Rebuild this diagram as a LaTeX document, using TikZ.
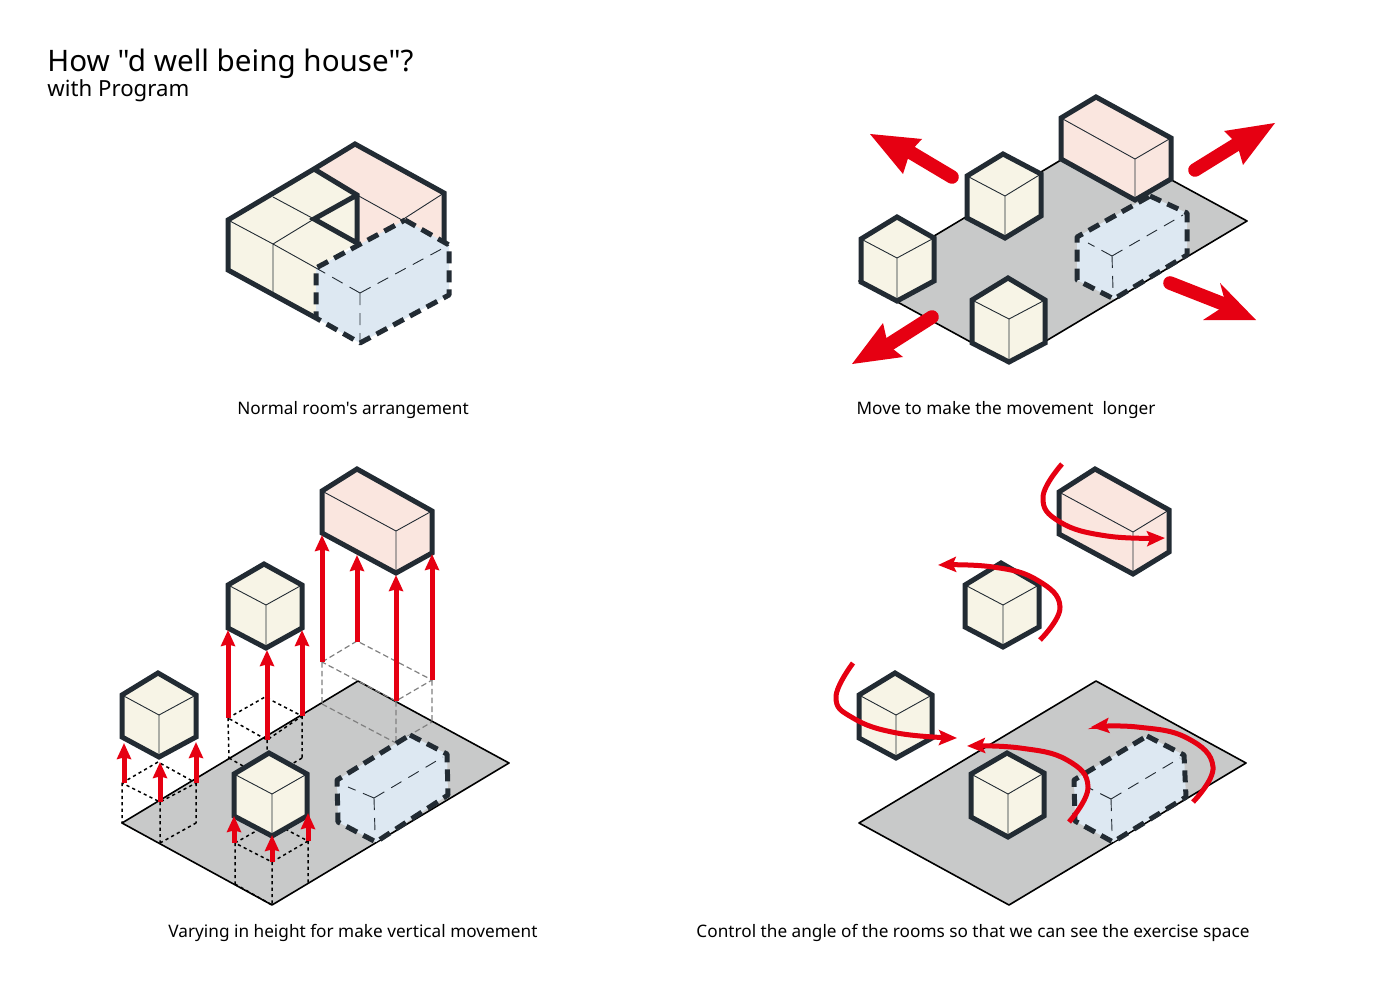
\documentclass[tikz,border=0pt]{standalone}
\usepackage{fontspec}
\setmainfont{Noto Sans}[Ligatures=TeXOff]
\usetikzlibrary{calc,arrows.meta}
\definecolor{cream}{HTML}{F7F4E6}
\definecolor{pinkb}{HTML}{FAE6DF}
\definecolor{blueb}{HTML}{DDE8F2}
\definecolor{plategrey}{HTML}{C8C9C9}
\definecolor{darkline}{HTML}{222B33}
\definecolor{redarr}{HTML}{E60012}
\tikzset{
  heavy/.style={draw=darkline,line width=2.5pt,line join=miter},
  heavydash/.style={draw=darkline,line width=2.5pt,dash pattern=on 6pt off 3.5pt,line join=round},
  thinline/.style={draw=darkline,line width=0.45pt},
  thindash/.style={draw=darkline,line width=0.45pt,dash pattern=on 6pt off 4pt},
  plate/.style={fill=plategrey,draw=black,line width=0.8pt,line join=round},
  dotline/.style={draw=black,line width=0.75pt,dash pattern=on 1.6pt off 1.6pt},
  greydash/.style={draw=black!50,line width=0.6pt,dash pattern=on 2.8pt off 1.6pt},
  uparrow/.style={draw=redarr,line width=2.5pt,-{Stealth[length=8pt,width=7pt,inset=0.8pt]}},
  curvearrow/.style={draw=redarr,line width=2.5pt,line cap=butt,-{Stealth[length=9pt,width=7.5pt,inset=1.6pt]}},
  caption/.style={font=\fontsize{8.6}{11}\selectfont,text=black,inner sep=0pt,anchor=center},
}
% fill, T, L, R, C, h
\newcommand{\isobox}[6]{%
  \fill[#1] (#2) -- (#3) -- ++(0,#6) -- ($(#5)+(0,#6)$) -- ($(#4)+(0,#6)$) -- (#4) -- cycle;
  \draw[thinline] (#3) -- (#5) -- (#4) (#5) -- ++(0,#6);
  \draw[heavy] (#2) -- (#3) -- ++(0,#6) -- ($(#5)+(0,#6)$) -- ($(#4)+(0,#6)$) -- (#4) -- cycle;
}
\newcommand{\blueouter}[6]{%
  \fill[blueb] (#1) -- (#2) -- (#3) -- (#4) -- (#5) -- (#6) -- cycle;
  \draw[heavydash] (#1) -- (#2) -- (#3) -- (#4) -- (#5) -- (#6) -- cycle;
}
% C, down, left, right
\newcommand{\blueinner}[4]{%
  \draw[thindash] (#1) -- (#2) (#1) -- (#3) (#1) -- (#4);
}
\newcommand{\bigarrow}[5]{%
  \draw[redarr,line width=6.8pt,line cap=round] (#1) -- (#4);
  \fill[redarr] (#2) -- (#3) -- (#4) -- (#5) -- cycle;
}
\begin{document}
\begin{tikzpicture}[x=0.5pt,y=-0.5pt]
\fill[white] (0,0) rectangle (1400,989);
\useasboundingbox (0,0) rectangle (1400,989);

% Titles
\node[font=\fontsize{14.8}{18}\selectfont,anchor=west,inner sep=0pt] (title) at (47,64) {How "d well being house"?};
\node[font=\fontsize{11.1}{14}\selectfont,anchor=west,inner sep=0pt] (subtitle) at (47,91) {with Program};

% Panel 1
\fill[pinkb] (314,169) -- (355,144) -- (444,193) -- (444,250) -- (357,250) -- (357,195) -- cycle;
\draw[thinline] (357,195) -- (402,220) -- (444,193);
\fill[cream] (228,220) -- (314,169) -- (357,195) -- (357,243) -- (316,268) -- (316,318) -- (228,270) -- cycle;
\draw[thinline] (228,220) -- (273,244) -- (316,268) (273,244) -- (273,293) (273,244) -- (314,219) (273,197) -- (314,219);
\draw[heavy] (444,245) -- (444,193) -- (355,144) -- (314,169) -- (228,220) -- (228,270) -- (316,318);
\draw[heavy] (314,169) -- (357,195) -- (357,243) -- (314,219) -- (357,195);
\blueouter{405,220}{449,245}{449,295}{360,343}{316,318}{316,268}
\blueinner{360,293}{360,343}{316,268}{449,245}
\node[caption] (cap1) at (353,410) {Normal room's arrangement};

% Panel 2
\path[plate] (859,281) -- (1096,139) -- (1247,221) -- (1009,363) -- cycle;
\isobox{cream}{897,217}{861,239}{934,238}{897,258}{43}
\isobox{cream}{1003,154}{967,176}{1041,174}{1005,196}{42}
\isobox{cream}{1008,278}{972,300}{1045,300}{1009,319}{43}
\isobox{pinkb}{1096,97}{1061,118}{1171,138}{1135,159}{41}
\blueouter{1150,196}{1187,213}{1187,255}{1114,299}{1077,280}{1077,237}
\blueinner{1112,256}{1113,290}{1088,243}{1183,215}
\bigarrow{952,177}{870,134}{922,139}{910,152}{903,174}
\bigarrow{1195,170}{1275,123}{1224,131}{1237,144}{1243,165}
\bigarrow{1170,283}{1256,320}{1220,283}{1226,305}{1203,320}
\bigarrow{932,317}{852,364}{883,323}{888,345}{903,357}
\node[caption] (cap2) at (1006,410) {Move to make the movement\ \ longer};

% Panel 3
\path[plate] (122,823) -- (358,681) -- (509,763) -- (272,905) -- cycle;
% footprints
\draw[dotline] (122,783) -- (158,762) -- (196,783) -- (160,802) -- cycle (122,783) -- (122,823) (160,802) -- (160,843) (196,783) -- (196,823) (160,843) -- (196,823);
\draw[dotline] (228,718) -- (265,697) -- (302,716) -- (267,740) -- cycle (228,718) -- (229,758) (267,740) -- (267,760) (302,716) -- (302,758) (229,758) -- (250,770) (302,758) -- (285,768);
\draw[dotline] (235,843) -- (272,822) -- (308,841) -- (272,862) -- cycle (235,843) -- (235,884) (272,862) -- (272,905) (308,841) -- (308,883) (235,884) -- (272,905);
\draw[greydash] (322,662) -- (357,641) -- (432,680) -- (396,701) -- cycle (322,662) -- (322,704) (396,701) -- (396,743) (432,680) -- (432,722) (322,704) -- (396,743) -- (432,722);
\blueouter{410,735}{447,754}{448,795}{376,842}{338,822}{337,780}
\blueinner{374,798}{375,832}{348,787}{443,757}
\isobox{cream}{158,673}{122,695}{196,695}{159,715}{42}
\isobox{cream}{269,753}{234,774}{307,774}{272,794}{42}
\isobox{cream}{264,564}{228,585}{302,585}{266,605}{43}
\isobox{pinkb}{357,469}{322,491}{432,511}{396,531}{42}
\draw[uparrow] (124,783) -- (124,743);
\draw[uparrow] (160,802) -- (160,762);
\draw[uparrow] (196,783) -- (196,742);
\draw[uparrow] (228,718) -- (228,630);
\draw[uparrow] (267,740) -- (267,650);
\draw[uparrow] (302,716) -- (302,630);
\draw[uparrow] (234,843) -- (234,816);
\draw[uparrow] (272,862) -- (272,835);
\draw[uparrow] (308,841) -- (308,813);
\draw[uparrow] (322,662) -- (322,535);
\draw[uparrow] (357,642) -- (357,555);
\draw[uparrow] (396,701) -- (396,575);
\draw[uparrow] (432,680) -- (432,554);
\node[caption] (cap3) at (353,933) {Varying in height for make vertical movement};

% Panel 4
\path[plate] (859,823) -- (1096,681) -- (1246,763) -- (1009,905) -- cycle;
\blueouter{1147,736}{1184,755}{1186,797}{1113,842}{1075,821}{1074,780}
\blueinner{1111,799}{1112,832}{1087,787}{1180,758}
\isobox{cream}{895,673}{859,695}{932,695}{896,715}{43}
\isobox{cream}{1007,753}{971,774}{1044,773}{1008,794}{43}
\isobox{pinkb}{1095,469}{1059,492}{1169,510}{1133,532}{42}
\isobox{cream}{1001,563}{965,585}{1039,585}{1003,605}{42}
\draw[curvearrow] plot[smooth,tension=0.75] coordinates {(853,663) (836,697) (853,718) (897,733) (957,738)};
\draw[curvearrow] plot[smooth,tension=0.75] coordinates {(1069,822) (1088,787) (1067,760) (1020,748) (967,746)};
\draw[curvearrow] plot[smooth,tension=0.75] coordinates {(1193,802) (1213,767) (1187,738) (1137,727) (1091,727)};
\draw[curvearrow] plot[smooth,tension=0.75] coordinates {(1062,464) (1043,497) (1060,522) (1107,536) (1165,538)};
\draw[curvearrow] plot[smooth,tension=0.75] coordinates {(1040,640) (1060,607) (1037,580) (993,567) (938,565)};
\node[caption] (cap4) at (973,933) {Control the angle of the rooms so that we can see the exercise space};
\end{tikzpicture}
\end{document}
